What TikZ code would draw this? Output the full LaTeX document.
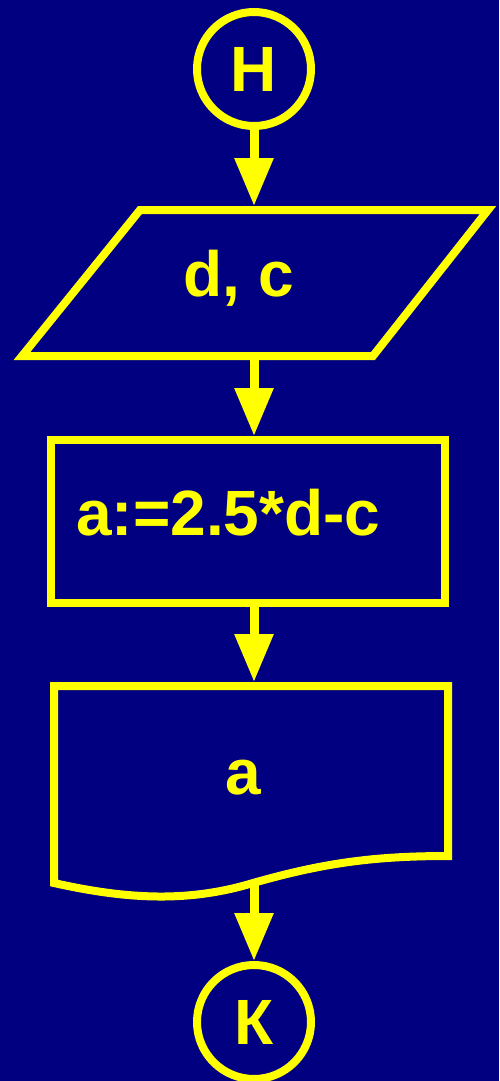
\documentclass[tikz,border=0pt]{standalone}
\usepackage{fontspec}
\setmainfont{Liberation Sans}
\usetikzlibrary{arrows.meta}
\definecolor{navy}{HTML}{000080}
\definecolor{signal}{HTML}{FFFF00}

\begin{document}
\begin{tikzpicture}[x=1pt,y=-1pt,
        block/.style={draw=signal,line width=8pt,line join=miter},
        term/.style={block,circle,minimum size=114pt,inner sep=0pt},
        txt/.style={text=signal,inner sep=0pt,font=\fontsize{64pt}{70pt}\selectfont\bfseries},
        flow/.style={draw=signal,line width=9pt,-{Triangle[width=37pt,length=48pt]}}]
        \fill[navy] (0,0) rectangle (499,1081);
        \useasboundingbox (0,0) rectangle (499,1081);
        % begin
        \node[term,txt] (start) at (254,69) {Н};
        % input
        \draw[block] (140,210) -- (488,210) -- (373,356) -- (22,356) -- cycle;
        \coordinate (intop) at (254,206);
        \coordinate (inbot) at (254,356);
        \node[txt,anchor=base] (in) at (239,296) {d, c};
        % process
        \node[block,minimum width=394pt,minimum height=163pt,inner sep=0pt] (calc) at (248,521.5) {};
        \node[txt,anchor=base west] (calctext) at (76,535) {a:=2.5*d-c};
        % output
        \draw[block] (54,883) -- (54,686) -- (448,686) -- (448,856)
                .. controls (370,856) and (320,864) .. (253,883)
                .. controls (190,902) and (130,900) .. (54,883) -- cycle;
        \coordinate (outtop) at (254,682);
        \coordinate (outbot) at (254,883);
        \node[txt,anchor=base] (out) at (243,794) {a};
        % end
        \node[term,txt] (end) at (254,1022) {К};
        % arrows
        \draw[flow] (start.south) -- (intop);
        \draw[flow] (inbot) -- (inbot |- calc.north);
        \draw[flow] (calc.south -| outtop) -- (outtop);
        \draw[flow] (outbot) -- (end.north);
\end{tikzpicture}
\end{document}
